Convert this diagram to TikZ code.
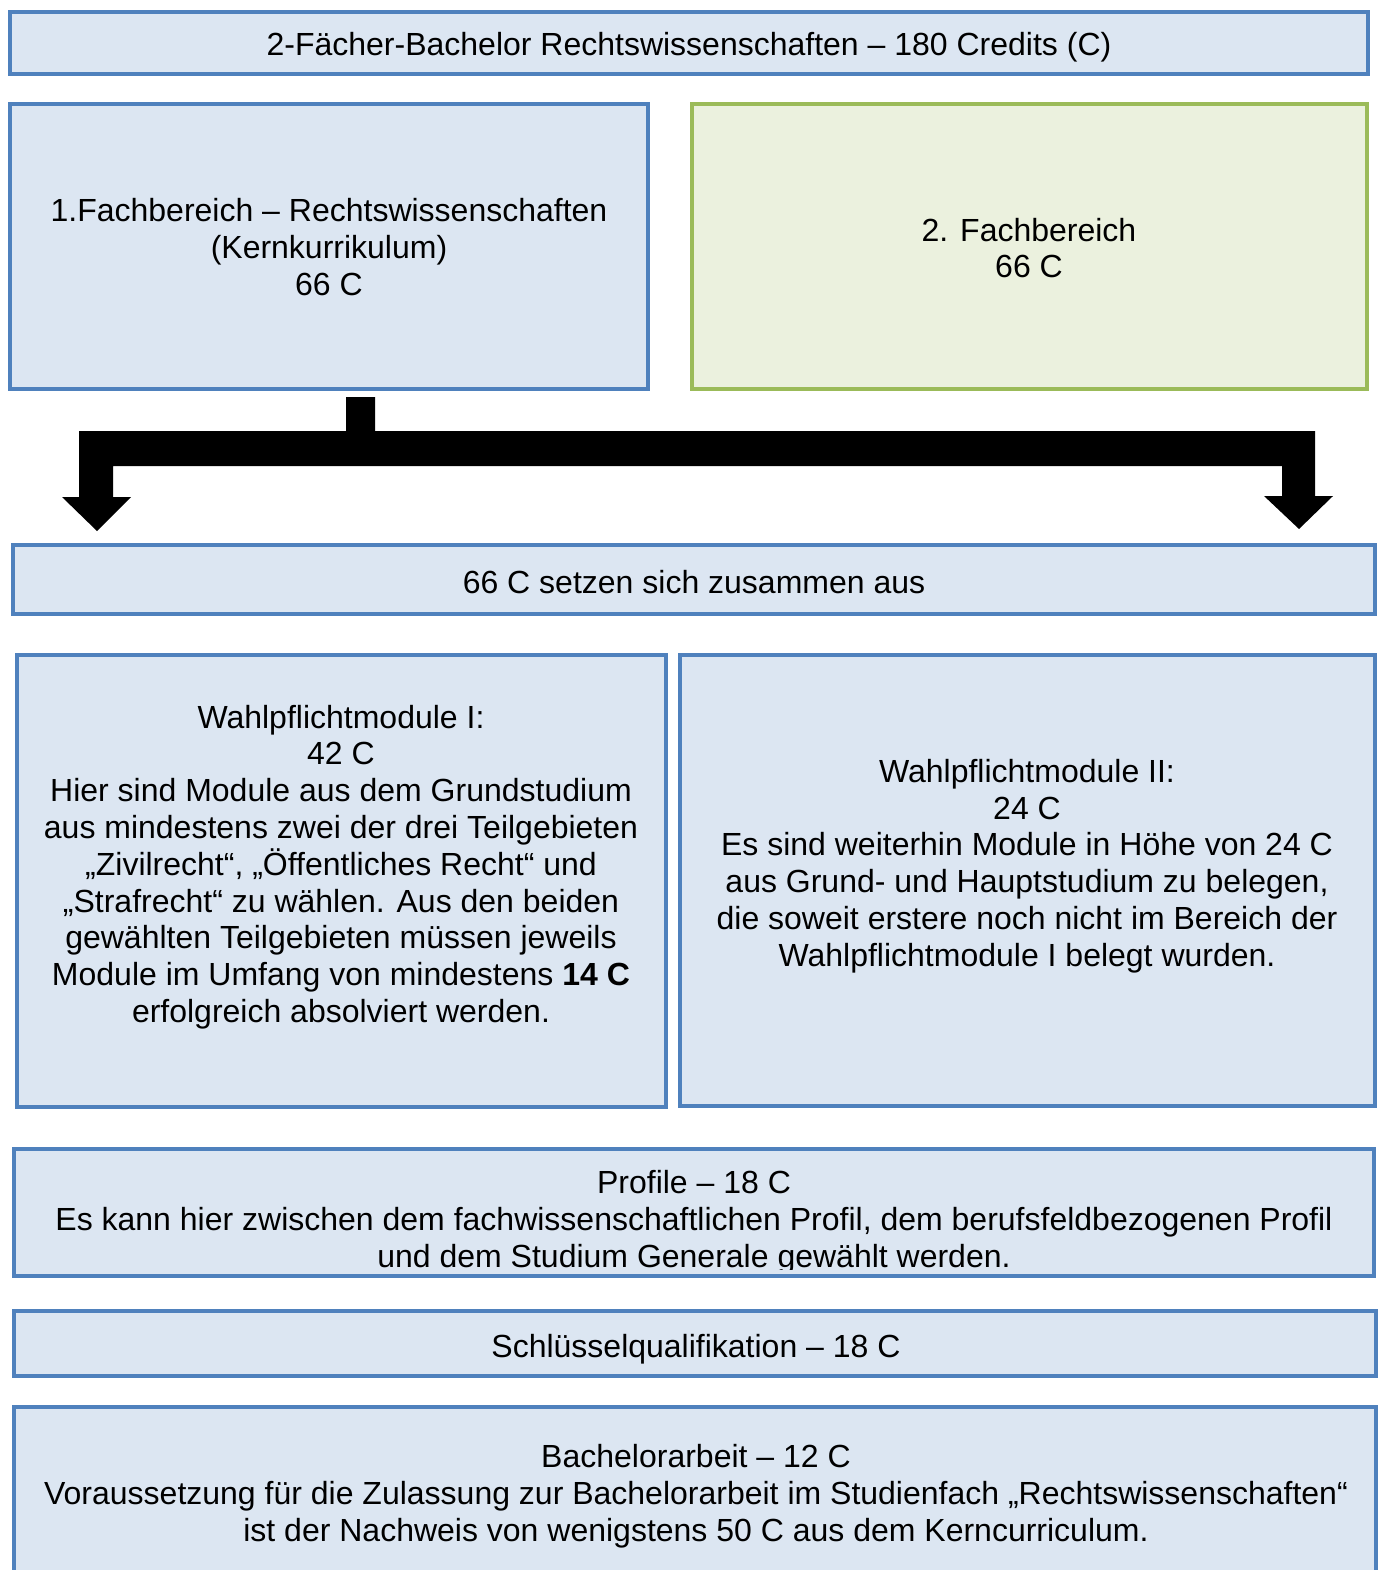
\documentclass[tikz,border=0pt]{standalone}
\usepackage{fontspec}
\setmainfont{Liberation Sans}
\definecolor{bord}{HTML}{4F81BD}
\definecolor{bfill}{HTML}{DCE6F2}
\definecolor{gbord}{HTML}{9BBB59}
\definecolor{gfill}{HTML}{EBF1DE}
\tikzset{
  bx/.style={draw=bord, fill=bfill, line width=4pt},
  gbx/.style={draw=gbord, fill=gfill, line width=4pt},
  txt/.style={align=center, inner sep=0pt, font=\fontsize{32}{36.8}\selectfont}
}
\begin{document}
\begin{tikzpicture}[x=1pt,y=-1pt]
\clip (0,0) rectangle (1384,1570);
\fill[white] (0,0) rectangle (1384,1570);
% boxes
\draw[bx] (10,12) rectangle (1368,74);
\coordinate (tc) at (689,47);
\node[txt] (title) at (tc) {2-Fächer-Bachelor Rechtswissenschaften – 180 Credits (C)};

\draw[bx] (10,104) rectangle (648,389);
\node[txt] (fb1) at (329,247) {1.Fachbereich – Rechtswissenschaften\\(Kernkurrikulum)\\66 C};

\draw[gbx] (692,104) rectangle (1367,389);
\node[txt] (fb2) at (1029,248) {2. Fachbereich\\66 C};

% block arrow
\fill[black] (346,397) -- (375,397) -- (375,431) -- (1315,431) -- (1315,496) -- (1333,496)
  -- (1299,529) -- (1264,496) -- (1282,496) -- (1282,466) -- (113,466) -- (113,497)
  -- (131,497) -- (97,531) -- (62,497) -- (79,497) -- (79,431) -- (346,431) -- cycle;

\draw[bx] (13,545) rectangle (1375,614);
\node[txt] (sum) at (694,582) {66 C setzen sich zusammen aus};

\draw[bx] (17,655) rectangle (666,1107);
\node[txt] (wp1) at (341,867) {Wahlpflichtmodule I:\\42 C\\Hier sind Module aus dem Grundstudium\\aus mindestens zwei der drei Teilgebieten\\„Zivilrecht“, „Öffentliches Recht“ und\\„Strafrecht“ zu wählen. Aus den beiden\\gewählten Teilgebieten müssen jeweils\\Module im Umfang von mindestens \textbf{14 C}\\erfolgreich absolviert werden.};

\draw[bx] (680,655) rectangle (1375,1106);
\node[txt] (wp2) at (1027,866) {Wahlpflichtmodule II:\\24 C\\Es sind weiterhin Module in Höhe von 24 C\\aus Grund- und Hauptstudium zu belegen,\\die soweit erstere noch nicht im Bereich der\\Wahlpflichtmodule I belegt wurden.};

\draw[bx] (14,1149) rectangle (1374,1276);
\begin{scope}
\clip (0,1140) rectangle (1384,1269);
\node[txt] (prof) at (694,1222) {Profile – 18 C\\Es kann hier zwischen dem fachwissenschaftlichen Profil, dem berufsfeldbezogenen Profil\\und dem Studium Generale gewählt werden.};
\end{scope}

\draw[bx] (14,1311) rectangle (1376,1376);
\node[txt] (sq) at (696,1349) {Schlüsselqualifikation – 18 C};

\draw[bx] (14,1407) rectangle (1376,1600);
\node[txt] (ba) at (696,1496) {Bachelorarbeit – 12 C\\Voraussetzung für die Zulassung zur Bachelorarbeit im Studienfach „Rechtswissenschaften“\\ist der Nachweis von wenigstens 50 C aus dem Kerncurriculum.};
\end{tikzpicture}
\end{document}
